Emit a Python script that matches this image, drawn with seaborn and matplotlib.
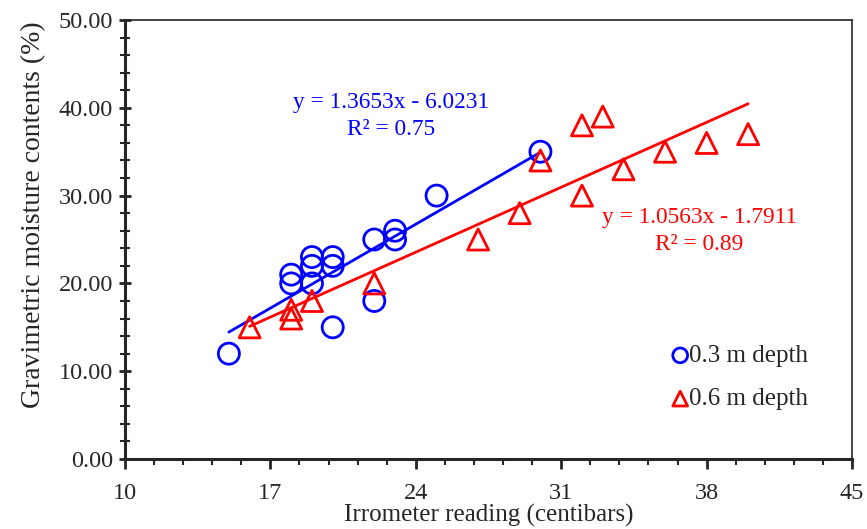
import matplotlib
matplotlib.use("Agg")
import matplotlib.pyplot as plt
import numpy as np
import pandas as pd
import seaborn as sns
from matplotlib.ticker import FixedLocator, MultipleLocator, FormatStrFormatter

# irrometer readings (centibars) and gravimetric moisture (%)
x_03 = [15, 18, 18, 19, 19, 19, 20, 20, 20, 22, 22, 23, 23, 25, 30]
y_03 = [12, 20, 21, 20, 22, 23, 23, 22, 15, 25, 18, 26, 25, 30, 35]
x_06 = [16, 18, 18, 19, 22, 27, 29, 30, 32, 32, 33, 34, 36, 38, 40]
y_06 = [15, 16, 17, 18, 20, 25, 28, 34, 30, 38, 39, 33, 35, 36, 37]

eq_03 = "y = 1.3653x - 6.0231\nR² = 0.75"
eq_06 = "y = 1.0563x - 1.7911\nR² = 0.89"

x_ticks = [10, 17, 24, 31, 38, 45]

df03 = pd.DataFrame({"x": x_03, "y": y_03})
df06 = pd.DataFrame({"x": x_06, "y": y_06})

sns.set_style("ticks")
plt.rcParams['font.family'] = ['Liberation Serif', 'DejaVu Serif']

fig = plt.figure(figsize=(8.67, 5.29), dpi=100)
ax = fig.add_axes([0.1442, 0.1323, 0.8385, 0.8299])

blue = "#0000FF"
red = "#FF0000"

# trend lines
sns.regplot(data=df03, x="x", y="y", ax=ax, scatter=False, ci=None,
            line_kws=dict(color=blue, lw=2))
sns.regplot(data=df06, x="x", y="y", ax=ax, scatter=False, ci=None,
            line_kws=dict(color=red, lw=2))

# points
sns.scatterplot(data=df03, x="x", y="y", ax=ax, marker="o", s=230,
                facecolors="none", edgecolor=blue, linewidth=2,
                label="0.3 m depth", zorder=3)
sns.scatterplot(data=df06, x="x", y="y", ax=ax, marker="^", s=230,
                facecolors="none", edgecolor=red, linewidth=2,
                label="0.6 m depth", zorder=3)

ax.text(22.8, 39.1, eq_03, color=blue, fontsize=16.8, ha="center",
        va="center", multialignment="center", linespacing=1.35)
ax.text(37.64, 25.95, eq_06, color=red, fontsize=16.8, ha="center",
        va="center", multialignment="center", linespacing=1.35)

ax.set_xlim(10, 45)
ax.set_ylim(0, 50)
ax.xaxis.set_major_locator(FixedLocator(x_ticks))
ax.xaxis.set_minor_locator(FixedLocator(np.arange(10, 45.01, 1.4)))
ax.yaxis.set_major_locator(MultipleLocator(10))
ax.yaxis.set_minor_locator(MultipleLocator(2))
ax.yaxis.set_major_formatter(FormatStrFormatter('%.2f'))

ax.tick_params(axis='x', which='major', direction='out', length=7, width=2,
               labelsize=17.5, pad=10)
ax.tick_params(axis='x', which='minor', direction='out', length=4, width=1.5)
ax.tick_params(axis='y', which='major', direction='inout', length=9, width=2,
               labelsize=17.5, pad=4)
ax.tick_params(axis='y', which='minor', direction='inout', length=7, width=1.5)

for side in ['left', 'bottom']:
    ax.spines[side].set_linewidth(2.2)
for side in ['top', 'right']:
    ax.spines[side].set_linewidth(1.2)
    ax.spines[side].set_visible(True)

ax.set_xlabel("Irrometer reading (centibars)", fontsize=18, labelpad=0)
ax.set_ylabel("Gravimetric moisture contents (%)", fontsize=20)
ax.yaxis.set_label_coords(-0.109, 0.556)

leg = ax.legend(loc="lower right", bbox_to_anchor=(0.970, 0.06), frameon=False,
                fontsize=18, handletextpad=-0.66, labelspacing=0.83,
                markerscale=0.7)

fig.savefig("out.png", dpi=100)
